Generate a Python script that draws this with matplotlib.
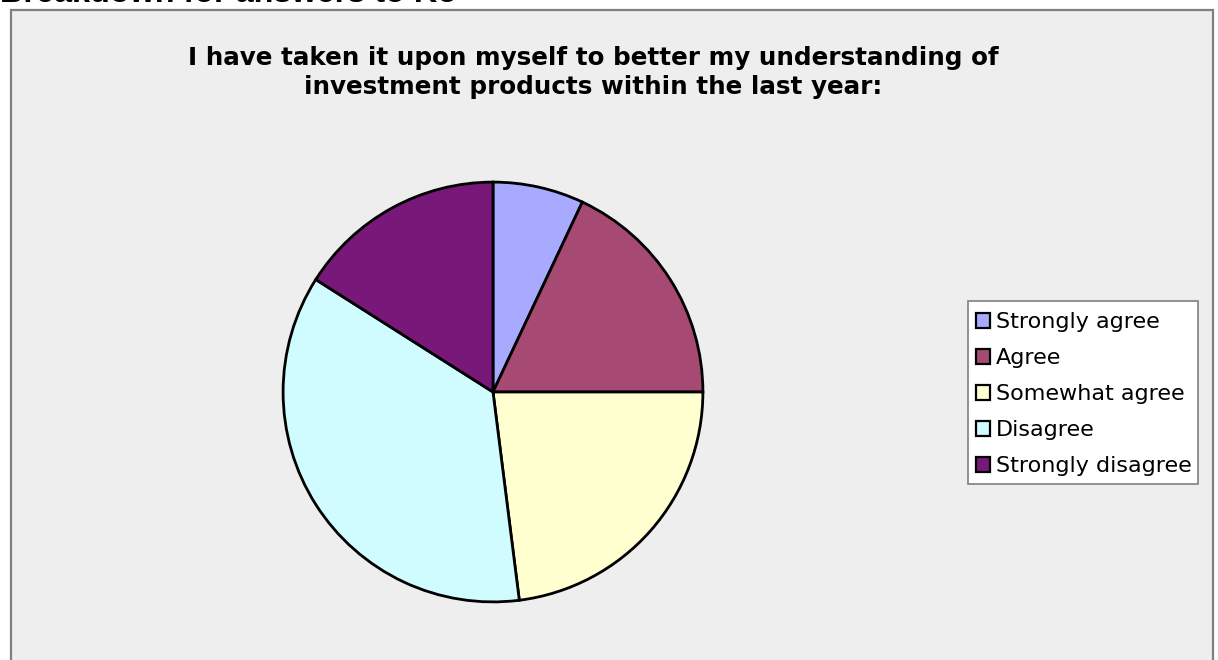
import matplotlib
matplotlib.use("Agg")
import matplotlib.pyplot as plt
from matplotlib.patches import Rectangle

# Survey responses (percent of respondents)
categories = ["Strongly agree", "Agree", "Somewhat agree", "Disagree", "Strongly disagree"]
shares = [7, 18, 23, 36, 16]
colors = ["#a8aaff", "#a64a74", "#ffffd0", "#d0fbff", "#781878"]

page_title = "Breakdown for answers to Ko"
chart_title = ("I have taken it upon myself to better my understanding of\n"
               "investment products within the last year:")

W, H = 1218, 660
fig = plt.figure(figsize=(W / 100, H / 100), dpi=100)
fig.patch.set_facecolor("white")

# Grey chart panel
panel = Rectangle((11 / W, -0.1), (1213 - 11) / W, 1.1 - 10 / H,
                  transform=fig.transFigure, facecolor="#eeeeee",
                  edgecolor="#7f7f7f", linewidth=1.6, zorder=-5)
fig.patches.append(panel)

# Page heading, partly above the visible area
fig.text(0 / W, 1 - 2 / H, page_title, fontsize=23.3, fontweight="bold",
         family="Liberation Sans", ha="left", va="baseline", color="black")

# Chart title
fig.text(593 / W, 1 - 46 / H, chart_title, fontsize=17.7, fontweight="bold",
         family="DejaVu Sans", ha="center", va="top", linespacing=1.25,
         color="black")

# Pie axes
cx, cy, r = 493, 392, 212
ax = fig.add_axes([(cx - r) / W, (H - cy - r) / H, 2 * r / W, 2 * r / H])
ax.set_zorder(2)
wedges, _ = ax.pie(shares, colors=colors, startangle=90, counterclock=False,
                   radius=1.0,
                   wedgeprops=dict(edgecolor="black", linewidth=2.0))
ax.set_xlim(-1.01, 1.01)
ax.set_ylim(-1.01, 1.01)
ax.set_axis_off()

# Legend box, drawn separately so its padding can be set exactly
legend_box = Rectangle((968 / W, 1 - 484 / H), (1198 - 968) / W, (484 - 301) / H,
                       transform=fig.transFigure, facecolor="white",
                       edgecolor="#7f7f7f", linewidth=1.2, zorder=3)
fig.patches.append(legend_box)

leg = fig.legend(wedges, categories, loc="upper left",
                 bbox_to_anchor=(976 / W, 1 - 312 / H),
                 frameon=False,
                 prop={"family": "DejaVu Sans", "size": 16},
                 handlelength=0.65, handleheight=0.65, handletextpad=0.25,
                 labelspacing=0.72, borderpad=0, borderaxespad=0)
leg.set_zorder(4)
for h in leg.legend_handles:
    h.set_linewidth(1.6)
    h.set_edgecolor("black")

fig.savefig("out.png", dpi=100, facecolor=fig.get_facecolor())
